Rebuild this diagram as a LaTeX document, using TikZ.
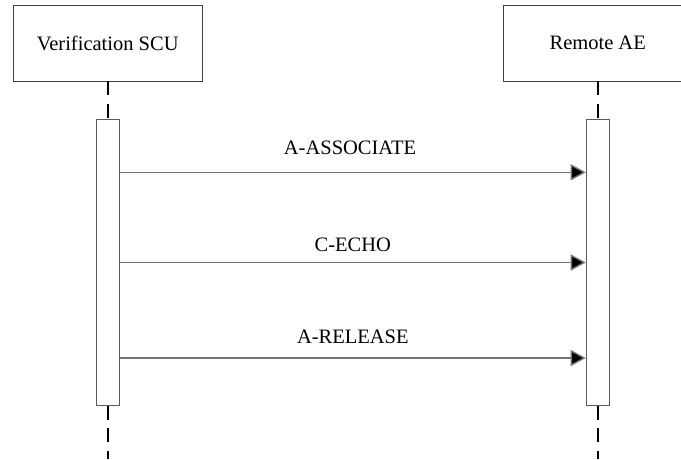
\documentclass[tikz,border=0pt]{standalone}
\usepackage{fontspec}
\setmainfont{Liberation Serif}
\usetikzlibrary{arrows.meta}
\begin{document}
\begin{tikzpicture}[x=1pt,y=-1pt,
  actor/.style={draw=black!75,line width=0.9pt,fill=white,minimum width=188.5pt,minimum height=75.5pt,inner sep=0pt,font=\fontsize{20.5}{24}\selectfont},
  actbar/.style={draw=black!65,line width=1pt,fill=white,minimum width=23pt,minimum height=286pt,inner sep=0pt},
  life/.style={line width=2pt,dash pattern=on 14pt off 8.8pt},
  msg/.style={draw=black!55,line width=1.4pt,-{Triangle[length=15pt,width=16pt,fill=black]}},
  lbl/.style={font=\fontsize{20.5}{24}\selectfont,anchor=base}]
\useasboundingbox (0,0) rectangle (681,459);
\clip (0,0) rectangle (681,459);
% actors
\node[actor] (scu) at (107.7,43.2) {Verification SCU};
\node[actor] (rae) at (597.7,43.2) {Remote AE};
% activation bars
\node[actbar] (bl) at (107.7,262) {};
\node[actbar] (br) at (597.7,262) {};
% lifelines
\coordinate (le) at (107.7,459);
\coordinate (re) at (597.7,459);
\draw[life] (scu.south) -- (bl.north);
\draw[life] (rae.south) -- (br.north);
\draw[life] (bl.south) -- (le);
\draw[life] (br.south) -- (re);
% messages
\coordinate (a1) at (bl.east |- 0,172.3);
\coordinate (b1) at (br.west |- 0,172.3);
\coordinate (a2) at (bl.east |- 0,262.5);
\coordinate (b2) at (br.west |- 0,262.5);
\coordinate (a3) at (bl.east |- 0,358);
\coordinate (b3) at (br.west |- 0,358);
\draw[msg] (a1) -- (b1);
\draw[msg] (a2) -- (b2);
\draw[msg] (a3) -- (b3);
\node[lbl] (l1) at (350,154.3) {A-ASSOCIATE};
\node[lbl] (l2) at (352.8,251) {C-ECHO};
\node[lbl] (l3) at (352.8,343.3) {A-RELEASE};
\end{tikzpicture}
\end{document}
